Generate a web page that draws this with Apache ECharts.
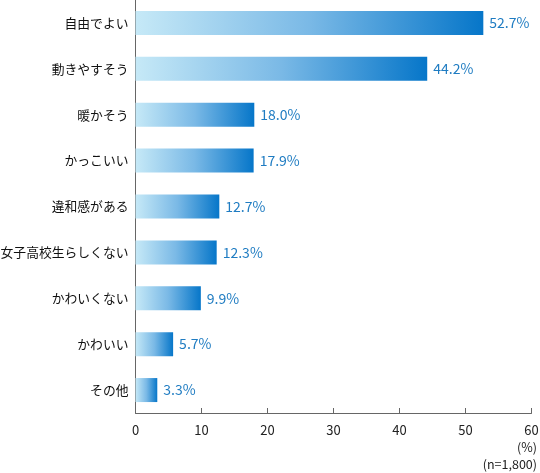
<!DOCTYPE html>
<html><head><meta charset="utf-8">
<script src="https://cdn.jsdelivr.net/npm/echarts@6/dist/echarts.min.js"></script>
<style>html,body{margin:0;padding:0;background:#fff}#c{width:540px;height:473px}</style>
</head><body><div id="c"></div>
<script>
const categories = ['自由でよい','動きやすそう','暖かそう','かっこいい','違和感がある','女子高校生らしくない','かわいくない','かわいい','その他'];
const values = [52.7, 44.2, 18.0, 17.9, 12.7, 12.3, 9.9, 5.7, 3.3];
const xTicks = [0, 10, 20, 30, 40, 50, 60];
const unitLabel = '(%)';
const sampleLabel = '(n=1,800)';

const font = '"Noto Sans CJK JP", "Noto Sans", sans-serif';
const chart = echarts.init(document.getElementById('c'));
chart.setOption({
  animation: false,
  grid: {left: 135.5, right: 8.5, top: 0, bottom: 60, containLabel: false, outerBoundsMode: 'none'},
  xAxis: {
    type: 'value', min: xTicks[0], max: xTicks[xTicks.length-1], interval: 10,
    axisLine: {show: true, lineStyle: {color: '#666', width: 1}},
    axisTick: {show: true, inside: true, length: 5, lineStyle: {color: '#666'}},
    splitLine: {show: false},
    axisLabel: {color: '#222', fontSize: 13, fontFamily: font, margin: 11}
  },
  yAxis: {
    type: 'category', data: categories, inverse: true,
    axisLine: {show: true, lineStyle: {color: '#666', width: 1}},
    axisTick: {show: false},
    axisLabel: {color: '#111', fontSize: 12.8, fontFamily: font, margin: 7}
  },
  series: [{
    type: 'bar', data: values, barWidth: 24,
    itemStyle: {
      color: new echarts.graphic.LinearGradient(0, 0, 1, 0, [
        {offset: 0, color: '#c6e9f7'},
        {offset: 0.5, color: '#7ab9e6'},
        {offset: 1, color: '#0676c9'}
      ])
    },
    label: {
      show: true, position: 'right', distance: 6,
      formatter: p => p.value.toFixed(1) + '%',
      color: '#1f7cc2', fontSize: 14, fontFamily: font
    }
  }],
  graphic: [
    {type: 'text', right: 3, top: 441, style: {text: unitLabel, fill: '#222', fontSize: 12.5, fontFamily: font, textAlign: 'right'}},
    {type: 'text', right: 3, top: 458, style: {text: sampleLabel, fill: '#222', fontSize: 12.5, fontFamily: font, textAlign: 'right'}}
  ]
});
</script></body></html>
